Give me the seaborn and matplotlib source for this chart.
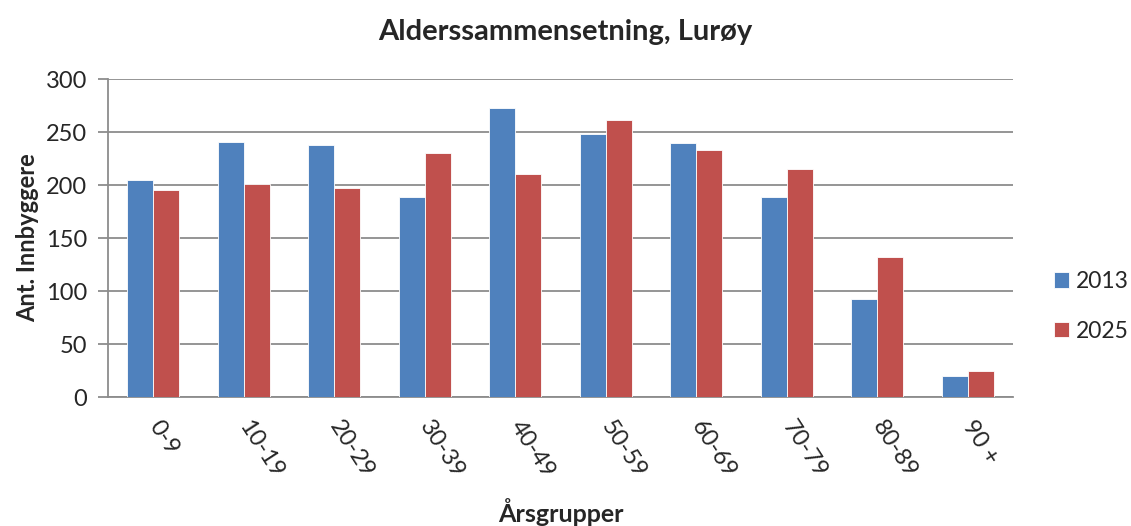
import matplotlib
matplotlib.use("Agg")
import matplotlib.pyplot as plt
import seaborn as sns
import pandas as pd

categories = ["0-9", "10-19", "20-29", "30-39", "40-49", "50-59", "60-69", "70-79", "80-89", "90 +"]
values_2013 = [205, 241, 238, 189, 273, 248, 240, 189, 92, 20]
values_2025 = [195, 201, 197, 230, 210, 261, 233, 215, 132, 25]
series_names = ["2013", "2025"]
colors = ["#4F81BD", "#C0504D"]

df = pd.DataFrame({
    "Årsgrupper": categories * 2,
    "value": values_2013 + values_2025,
    "series": [series_names[0]] * len(categories) + [series_names[1]] * len(categories),
})

sns.set_style("white")
plt.rcParams["font.family"] = ["Lato", "DejaVu Sans"]

fig = plt.figure(figsize=(11.31, 5.26), dpi=100)
ax = fig.add_axes([0.0955, 0.2452, 0.8002, 0.6046])

sns.barplot(data=df, x="Årsgrupper", y="value", hue="series", palette=colors,
            width=0.575, ax=ax, saturation=1, edgecolor="white", linewidth=0.6,
            zorder=3)

ax.set_ylim(0, 300)
ax.set_yticks(range(0, 301, 50))
ax.set_xlim(-0.5, len(categories) - 0.5)
ax.yaxis.grid(True, color="#8c8c8c", linewidth=1.3, zorder=0)
ax.set_axisbelow(True)
for s in ["top", "right"]:
    ax.spines[s].set_visible(False)
for s in ["left", "bottom"]:
    ax.spines[s].set_color("#8c8c8c")
    ax.spines[s].set_linewidth(1.3)

ax.tick_params(axis="y", length=7, color="#8c8c8c", width=1.3, labelsize=17, pad=8, left=True)
ax.tick_params(axis="x", length=0, labelsize=17, pad=18)
for lbl in ax.get_xticklabels():
    lbl.set_rotation(-57)
    lbl.set_rotation_mode("anchor")
    lbl.set_ha("left")
    lbl.set_va("center")

ax.set_ylabel("Ant. Innbyggere", fontsize=17, fontweight="bold", labelpad=5)
ax.set_xlabel("Årsgrupper", fontsize=18, fontweight="bold", labelpad=12)
fig.text(0.5, 0.94, "Alderssammensetning, Lurøy", ha="center", va="center",
         fontsize=21, fontweight="bold")

leg = ax.legend(loc="center left", bbox_to_anchor=(1.045, 0.285), frameon=False,
                fontsize=16.5, handlelength=0.65, handleheight=0.65, labelspacing=1.25,
                handletextpad=0.3, borderaxespad=0, borderpad=0)

fig.savefig("out.png", dpi=100)
